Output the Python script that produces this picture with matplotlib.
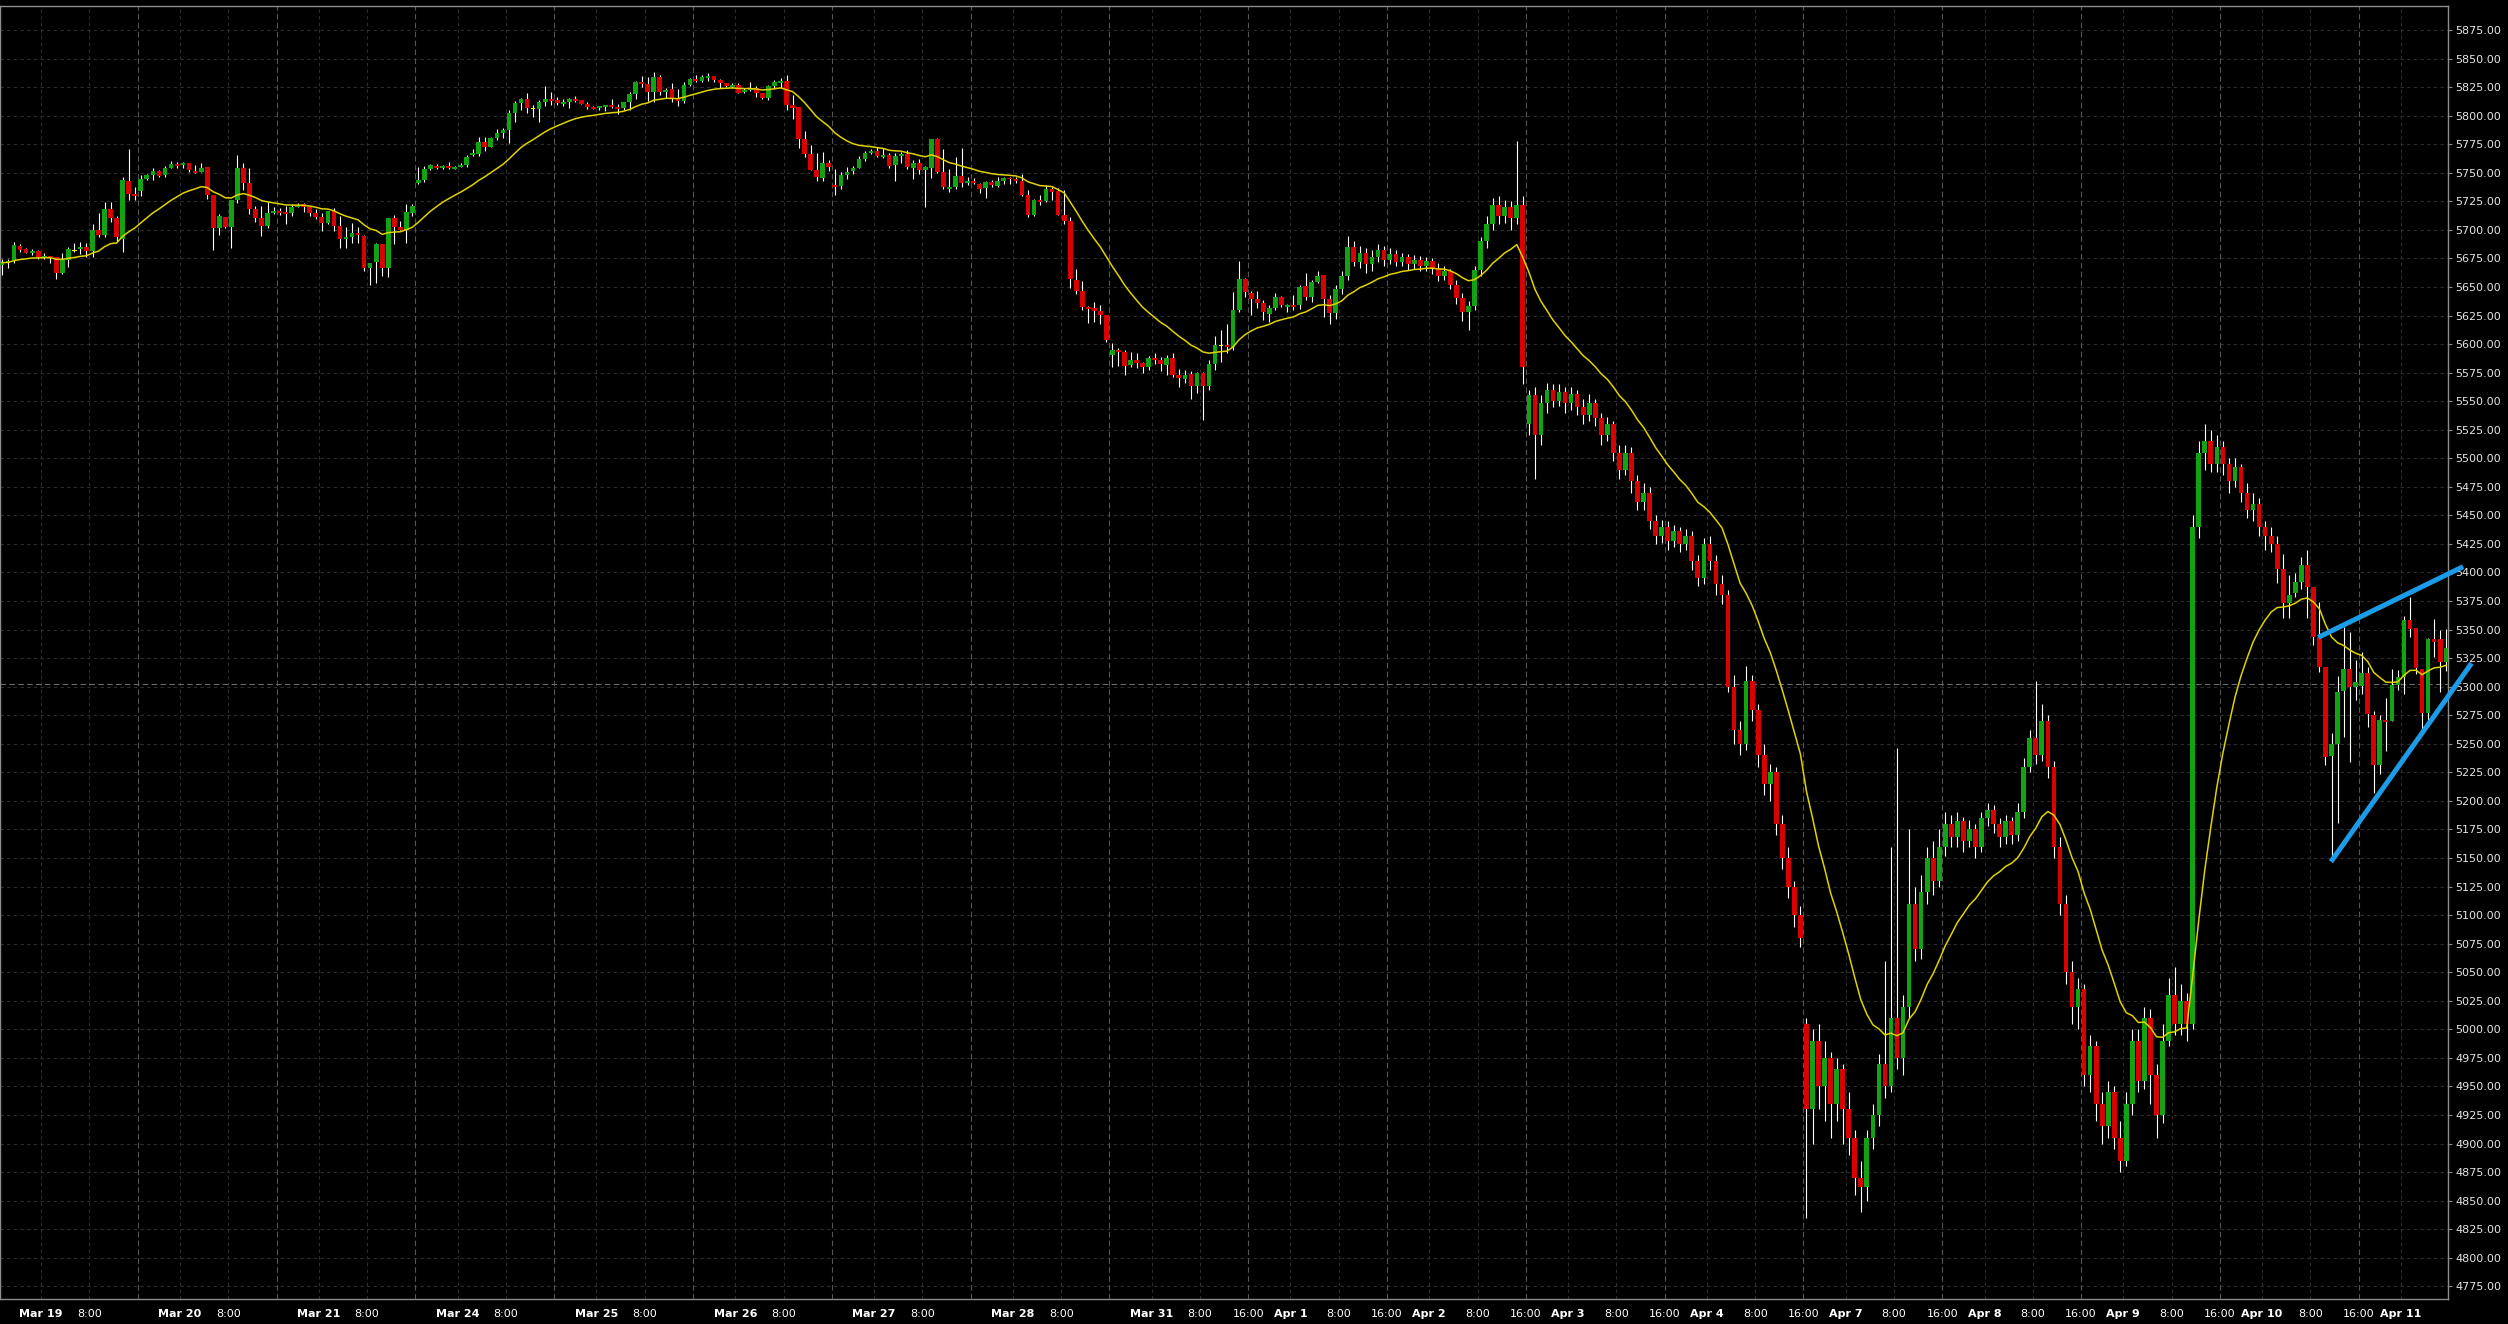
import matplotlib
matplotlib.use("Agg")
import matplotlib.pyplot as plt
import numpy as np
import pandas as pd

# ------------------------------------------------------------------
# hourly OHLC bars (bar 0 = Mar 18 16:00)
# ------------------------------------------------------------------
opens = [
    5669.5, 5671.3, 5673.6, 5686.2, 5683.2, 5680.0, 5681.5, 5675.9, 5677.4, 5676.2,
    5662.5, 5673.6, 5682.1, 5683.5, 5685.0, 5681.8, 5699.9, 5695.5, 5718.3, 5710.4,
    5691.7, 5742.8, 5731.4, 5734.0, 5744.5, 5748.0, 5751.5, 5748.0, 5754.4, 5757.7,
    5757.1, 5758.5, 5751.5, 5751.0, 5755.0, 5730.5, 5701.9, 5711.5, 5702.5, 5726.1,
    5754.2, 5741.0, 5718.3, 5710.7, 5703.4, 5715.0, 5716.5, 5715.9, 5714.8, 5720.3,
    5722.3, 5720.0, 5714.8, 5711.3, 5706.3, 5716.5, 5703.4, 5692.3, 5694.0, 5696.9,
    5694.6, 5666.9, 5672.1, 5687.9, 5666.9, 5710.4, 5702.5, 5699.6, 5715.0, 5741.3,
    5743.7, 5753.3, 5755.9, 5754.4, 5755.9, 5753.6, 5755.3, 5756.5, 5765.3, 5766.7,
    5776.9, 5772.8, 5780.7, 5784.8, 5787.7, 5802.3, 5811.0, 5814.5, 5806.1, 5806.1,
    5812.2, 5814.5, 5813.7, 5810.5, 5811.9, 5814.5, 5813.7, 5810.2, 5807.5, 5806.9,
    5807.5, 5809.3, 5807.5, 5806.7, 5811.9, 5818.9, 5829.4, 5827.7, 5820.7, 5833.8,
    5820.7, 5823.0, 5814.2, 5813.1, 5826.8, 5832.1, 5830.6, 5833.2, 5834.7, 5831.2,
    5828.8, 5825.3, 5826.5, 5821.0, 5822.4, 5823.9, 5819.5, 5815.7, 5826.2, 5828.8,
    5830.3, 5809.3, 5807.5, 5779.2, 5766.4, 5752.4, 5745.7, 5758.2, 5739.2, 5738.7,
    5748.0, 5751.5, 5754.4, 5762.0, 5767.5, 5769.0, 5764.0, 5765.5, 5756.8, 5765.0,
    5766.7, 5754.5, 5758.6, 5752.4, 5754.5, 5779.6, 5750.9, 5736.1, 5737.2, 5747.2,
    5741.3, 5742.8, 5740.2, 5736.7, 5742.2, 5738.7, 5743.1, 5745.7, 5744.5, 5742.8,
    5730.8, 5713.0, 5726.2, 5725.3, 5735.8, 5734.0, 5713.0, 5707.8, 5656.1, 5646.5,
    5632.2, 5631.3, 5629.0, 5625.5, 5590.8, 5594.8, 5593.1, 5581.7, 5586.1, 5583.5,
    5580.3, 5587.8, 5586.1, 5582.0, 5587.8, 5572.9, 5569.5, 5573.8, 5563.6, 5574.7,
    5563.6, 5582.6, 5598.6, 5599.2, 5597.8, 5629.9, 5657.0, 5644.5, 5639.5, 5636.0,
    5626.4, 5631.6, 5641.3, 5632.8, 5634.2, 5634.5, 5650.9, 5641.0, 5654.7, 5660.5,
    5639.5, 5627.5, 5648, 5660, 5685, 5672, 5680, 5670, 5676, 5682,
    5674, 5679, 5672, 5676, 5670, 5674, 5668, 5673, 5667, 5660,
    5664, 5652, 5640, 5628, 5633, 5665, 5690, 5705, 5722, 5712,
    5720, 5710, 5722, 5530, 5555, 5520, 5548, 5560, 5550, 5558,
    5548, 5556, 5545, 5538, 5548, 5535, 5520, 5530, 5505, 5490,
    5505, 5480, 5462, 5470, 5445, 5432, 5440, 5428, 5436, 5425,
    5432, 5410, 5395, 5425, 5410, 5390, 5380, 5300, 5262, 5250,
    5305, 5280, 5240, 5215, 5225, 5180, 5150, 5125, 5100, 5005,
    4930, 4990, 4950, 4975, 4935, 4965, 4930, 4905, 4870, 4862,
    4905, 4925, 4970, 4950, 5010, 4975, 5020, 5110, 5070, 5120,
    5150, 5130, 5160, 5180, 5168, 5182, 5165, 5175, 5160, 5185,
    5192, 5180, 5168, 5182, 5170, 5190, 5230, 5255, 5240, 5270,
    5230, 5160, 5110, 5050, 5020, 5035, 4960, 4985, 4935, 4915,
    4945, 4905, 4885, 4935, 4990, 4955, 5010, 4960, 4925, 4990,
    5030, 5005, 5025, 5005, 5440, 5505, 5515, 5495, 5510, 5495,
    5480, 5492, 5470, 5455, 5460, 5440, 5432,
    5425.0, 5402.8, 5373.0, 5381.8, 5392.0, 5406.6, 5387.0, 5343.8, 5317.5, 5239.6,
    5249.8, 5296.5, 5315.5, 5300.0, 5300.6, 5311.7, 5275.2, 5231.4, 5270.8, 5270.3,
    5301.5, 5308.8, 5358.4, 5351.1, 5315.5, 5277.3, 5341.5, 5341.5, 5321.9,
]
highs = [
    5674.2, 5674.2, 5689.7, 5687.6, 5683.8, 5682.9, 5682.4, 5679.4, 5677.4, 5676.2,
    5680.0, 5685.3, 5688.2, 5689.4, 5688.2, 5705.1, 5714.8, 5724.7, 5724.7, 5712.4,
    5746.0, 5770.8, 5737.2, 5748.0, 5748.9, 5753.9, 5752.4, 5755.9, 5760.6, 5759.4,
    5759.7, 5758.8, 5756.5, 5758.8, 5755.0, 5730.5, 5713.6, 5711.5, 5726.1, 5765.5,
    5758.8, 5753.9, 5720.9, 5720.9, 5724.7, 5719.7, 5718.8, 5720.9, 5722.3, 5723.8,
    5723.2, 5720.0, 5718.0, 5714.5, 5716.5, 5718.8, 5712.1, 5702.8, 5706.3, 5702.8,
    5695.8, 5670.7, 5688.5, 5687.9, 5710.4, 5712.7, 5708.0, 5722.6, 5722.6, 5754.7,
    5755.9, 5757.7, 5757.4, 5756.8, 5759.4, 5755.6, 5758.5, 5765.5, 5770.8, 5781.0,
    5781.3, 5781.6, 5788.3, 5788.9, 5804.9, 5812.8, 5815.1, 5820.1, 5809.0, 5813.7,
    5826.2, 5820.7, 5816.3, 5814.2, 5815.1, 5817.2, 5813.7, 5811.9, 5808.4, 5808.4,
    5809.3, 5814.5, 5810.2, 5811.9, 5821.0, 5830.6, 5835.0, 5834.1, 5838.2, 5835.8,
    5824.2, 5828.3, 5823.0, 5829.1, 5832.6, 5835.5, 5835.8, 5837.0, 5834.7, 5831.8,
    5828.8, 5828.3, 5828.3, 5823.9, 5829.1, 5825.9, 5820.1, 5826.8, 5831.2, 5832.6,
    5835.8, 5818.0, 5807.5, 5786.8, 5774.3, 5767.5, 5768.1, 5761.1, 5753.2, 5750.3,
    5755.3, 5755.9, 5764.6, 5769.0, 5770.8, 5772.8, 5771.9, 5767.0, 5767.0, 5768.5,
    5769.9, 5761.2, 5761.8, 5755.9, 5779.6, 5780.4, 5770.8, 5753.0, 5763.5, 5771.7,
    5746.0, 5745.1, 5741.3, 5743.1, 5743.7, 5746.0, 5746.0, 5746.6, 5746.6, 5748.9,
    5734.9, 5727.3, 5730.5, 5739.3, 5737.8, 5736.4, 5734.9, 5711.6, 5665.7, 5654.9,
    5633.3, 5636.5, 5634.2, 5625.5, 5600.7, 5596.3, 5594.8, 5593.1, 5591.9, 5584.6,
    5589.6, 5591.9, 5588.4, 5590.8, 5591.9, 5577.9, 5577.3, 5576.2, 5575.9, 5575.3,
    5586.1, 5607.1, 5612.4, 5617.6, 5645.9, 5672.8, 5657.9, 5646.5, 5646.5, 5638.6,
    5634.2, 5644.5, 5642.1, 5634.8, 5643.0, 5651.5, 5662.6, 5656.4, 5664.3, 5660.5,
    5643.0, 5652, 5664, 5695, 5690, 5686, 5684, 5682, 5688, 5686,
    5684, 5682, 5680, 5679, 5678, 5677, 5676, 5675, 5671, 5668,
    5666, 5656, 5645, 5638, 5668, 5694, 5712, 5728, 5730, 5726,
    5725, 5778, 5730, 5560, 5562, 5555, 5566, 5565, 5565, 5562,
    5562, 5560, 5552, 5556, 5552, 5540, 5536, 5533, 5512, 5512,
    5510, 5485, 5478, 5475, 5450, 5446, 5445, 5442, 5440, 5438,
    5436, 5415, 5430, 5432, 5415, 5398, 5385, 5310, 5270, 5318,
    5310, 5285, 5250, 5232, 5230, 5188, 5160, 5130, 5108, 5010,
    5000, 5005, 4990, 4980, 4975, 4970, 4945, 4912, 4885, 4912,
    4935, 4978, 5060, 5160, 5246, 5030, 5175, 5125, 5135, 5160,
    5165, 5175, 5190, 5188, 5190, 5186, 5183, 5180, 5190, 5198,
    5196, 5185, 5188, 5186, 5198, 5238, 5262, 5305, 5285, 5275,
    5235, 5168, 5118, 5060, 5045, 5040, 4995, 4990, 4945, 4955,
    4950, 4920, 4945, 5000, 5000, 5020, 5018, 4970, 5005, 5045,
    5055, 5040, 5032, 5450, 5515, 5530, 5525, 5520, 5515, 5500,
    5500, 5495, 5478, 5470, 5465, 5445, 5440,
    5432.0, 5416.2, 5397.8, 5399.3, 5413.9, 5419.7, 5387.0, 5374.5, 5317.5, 5259.2,
    5309.4, 5352.0, 5348.2, 5323.4, 5330.7, 5317.0, 5279.0, 5275.2, 5289.8, 5315.2,
    5314.6, 5361.9, 5378.8, 5351.1, 5315.5, 5342.4, 5359.0, 5349.7, 5350.5,
]
lows = [
    5660.8, 5666.9, 5671.3, 5680.6, 5679.4, 5678.0, 5674.5, 5674.8, 5671.3, 5657.3,
    5661.6, 5667.8, 5680.9, 5679.1, 5675.9, 5675.9, 5693.5, 5693.5, 5706.9, 5690.2,
    5680.9, 5726.1, 5726.1, 5729.9, 5743.7, 5743.7, 5746.0, 5746.6, 5754.4, 5754.2,
    5754.2, 5751.0, 5749.5, 5750.4, 5726.7, 5682.4, 5695.5, 5701.3, 5684.4, 5723.2,
    5734.9, 5714.2, 5706.9, 5694.9, 5701.3, 5713.6, 5713.0, 5705.1, 5712.4, 5720.3,
    5715.3, 5712.1, 5709.5, 5699.3, 5705.1, 5699.3, 5684.4, 5684.4, 5688.2, 5688.2,
    5664.0, 5651.4, 5653.2, 5659.9, 5659.0, 5687.6, 5699.6, 5688.2, 5712.1, 5739.9,
    5741.9, 5752.4, 5753.6, 5753.6, 5753.3, 5753.0, 5755.0, 5755.0, 5764.4, 5765.0,
    5769.4, 5772.5, 5778.7, 5780.7, 5776.3, 5794.7, 5805.2, 5802.6, 5799.1, 5794.7,
    5808.7, 5809.3, 5809.3, 5808.4, 5806.9, 5811.9, 5810.2, 5805.5, 5805.5, 5804.9,
    5804.3, 5806.4, 5801.7, 5804.9, 5804.9, 5814.2, 5825.3, 5812.8, 5811.9, 5818.0,
    5815.4, 5812.2, 5808.7, 5811.3, 5826.2, 5829.1, 5829.4, 5830.6, 5829.7, 5823.9,
    5825.3, 5824.5, 5819.5, 5820.1, 5821.5, 5816.6, 5814.5, 5813.7, 5823.0, 5823.9,
    5804.9, 5797.0, 5771.9, 5764.0, 5752.4, 5743.0, 5742.7, 5751.5, 5730.5, 5736.0,
    5744.2, 5748.9, 5753.8, 5760.5, 5766.4, 5763.5, 5763.2, 5754.1, 5743.1, 5758.3,
    5753.6, 5744.5, 5748.9, 5720.3, 5745.7, 5749.5, 5736.1, 5733.4, 5736.1, 5737.8,
    5739.3, 5740.2, 5732.0, 5728.2, 5737.8, 5737.8, 5739.9, 5740.2, 5740.7, 5729.9,
    5711.6, 5712.4, 5721.8, 5724.7, 5725.9, 5713.0, 5705.4, 5648.8, 5644.1, 5629.8,
    5618.7, 5619.6, 5617.3, 5602.1, 5580.3, 5581.1, 5572.9, 5580.3, 5578.8, 5574.4,
    5577.3, 5582.6, 5576.7, 5572.9, 5571.5, 5562.7, 5565.7, 5552.2, 5557.5, 5533.8,
    5559.8, 5577.3, 5584.6, 5592.5, 5594.8, 5628.4, 5641.0, 5625.5, 5631.3, 5621.1,
    5619.7, 5629.6, 5632.8, 5628.4, 5629.9, 5630.4, 5638.6, 5637.2, 5653.2, 5623.4,
    5617.6, 5622, 5644, 5656, 5668, 5667, 5662, 5664, 5672, 5668,
    5670, 5668, 5668, 5665, 5666, 5664, 5664, 5661, 5655, 5656,
    5648, 5635, 5620, 5612, 5630, 5660, 5684, 5700, 5705, 5706,
    5700, 5705, 5565, 5520, 5482, 5512, 5540, 5545, 5546, 5540,
    5542, 5538, 5530, 5533, 5528, 5512, 5515, 5498, 5482, 5485,
    5470, 5455, 5455, 5438, 5425, 5426, 5420, 5422, 5418, 5420,
    5402, 5388, 5390, 5402, 5380, 5372, 5295, 5250, 5240, 5245,
    5270, 5230, 5205, 5200, 5170, 5140, 5115, 5090, 5072, 4835,
    4900, 4930, 4920, 4905, 4920, 4900, 4890, 4855, 4840, 4850,
    4895, 4915, 4940, 4945, 4965, 4960, 5010, 5060, 5062, 5110,
    5118, 5125, 5152, 5160, 5160, 5155, 5160, 5150, 5155, 5178,
    5172, 5160, 5162, 5162, 5165, 5185, 5225, 5232, 5235, 5220,
    5150, 5100, 5040, 5005, 5000, 4950, 4945, 4920, 4900, 4905,
    4895, 4875, 4880, 4925, 4945, 4948, 4935, 4905, 4918, 4985,
    4995, 4995, 4990, 5000, 5430, 5490, 5488, 5488, 5485, 5470,
    5475, 5462, 5448, 5445, 5432, 5420, 5418,
    5390.5, 5359.9, 5359.9, 5378.8, 5385.3, 5359.9, 5336.5, 5313.2, 5231.4, 5146.8,
    5180.4, 5255.7, 5234.4, 5288.4, 5293.6, 5264.4, 5206.6, 5223.6, 5244.0, 5270.3,
    5297.1, 5293.6, 5343.8, 5311.1, 5262.1, 5270.8, 5326.3, 5295.7, 5314.0,
]
closes = [
    5671.3, 5672.7, 5686.7, 5682.4, 5679.7, 5681.5, 5676.2, 5677.4, 5675.9, 5662.2,
    5673.6, 5682.9, 5682.1, 5685.0, 5681.8, 5699.9, 5695.8, 5718.3, 5710.4, 5693.7,
    5743.7, 5731.7, 5729.9, 5744.5, 5748.0, 5751.5, 5747.4, 5754.2, 5757.7, 5756.2,
    5758.5, 5752.1, 5750.1, 5754.2, 5730.5, 5701.9, 5712.1, 5702.5, 5726.1, 5754.2,
    5741.0, 5718.3, 5710.7, 5703.4, 5714.8, 5716.5, 5715.0, 5714.2, 5720.0, 5721.8,
    5720.0, 5715.0, 5711.5, 5706.3, 5716.5, 5703.7, 5692.3, 5693.7, 5696.9, 5695.2,
    5666.9, 5670.7, 5687.9, 5666.9, 5710.4, 5702.8, 5700.2, 5715.6, 5720.9, 5743.7,
    5753.3, 5756.8, 5754.2, 5756.2, 5754.2, 5755.0, 5756.8, 5763.5, 5767.0, 5776.9,
    5772.8, 5780.4, 5784.8, 5787.7, 5802.3, 5811.0, 5814.5, 5806.9, 5806.1, 5811.9,
    5814.5, 5812.8, 5811.0, 5811.9, 5814.5, 5812.8, 5810.5, 5807.5, 5805.8, 5808.4,
    5809.3, 5807.5, 5805.8, 5811.9, 5818.9, 5829.4, 5827.7, 5820.7, 5833.8, 5820.7,
    5822.4, 5814.5, 5813.4, 5826.8, 5831.8, 5830.6, 5833.8, 5834.7, 5831.2, 5828.8,
    5826.2, 5826.8, 5820.1, 5822.4, 5823.9, 5819.5, 5815.7, 5825.9, 5829.7, 5830.6,
    5809.3, 5806.9, 5779.2, 5766.4, 5752.4, 5746.5, 5758.2, 5755.3, 5737.8, 5748.0,
    5750.9, 5754.4, 5762.0, 5767.5, 5769.0, 5764.6, 5765.5, 5755.9, 5764.7, 5766.7,
    5755.3, 5758.6, 5752.4, 5755.3, 5779.6, 5750.8, 5737.5, 5737.5, 5747.2, 5741.0,
    5742.8, 5741.0, 5736.1, 5741.9, 5739.6, 5742.8, 5745.4, 5744.2, 5742.8, 5730.8,
    5713.0, 5726.2, 5724.4, 5735.8, 5733.4, 5713.0, 5708.1, 5656.7, 5646.8, 5632.8,
    5631.0, 5629.0, 5625.5, 5603.6, 5594.8, 5593.4, 5581.1, 5586.1, 5583.8, 5580.3,
    5587.8, 5586.1, 5582.6, 5587.8, 5572.9, 5570.6, 5572.9, 5563.6, 5574.7, 5563.6,
    5582.6, 5599.2, 5598.6, 5597.8, 5629.9, 5657.0, 5645.9, 5639.5, 5636.0, 5627.8,
    5631.6, 5641.3, 5634.2, 5634.2, 5632.8, 5650.0, 5641.3, 5654.4, 5659.6, 5639.2,
    5627.5, 5648, 5660, 5685, 5672, 5680, 5670, 5676, 5682, 5674,
    5679, 5672, 5676, 5670, 5674, 5668, 5673, 5667, 5660, 5664,
    5652, 5640, 5628, 5633, 5665, 5690, 5705, 5722, 5712, 5720,
    5710, 5722, 5580, 5555, 5520, 5548, 5560, 5550, 5558, 5548,
    5556, 5545, 5538, 5548, 5535, 5520, 5530, 5505, 5490, 5505,
    5480, 5462, 5470, 5445, 5432, 5440, 5428, 5436, 5425, 5432,
    5410, 5395, 5425, 5410, 5390, 5380, 5300, 5262, 5250, 5305,
    5280, 5240, 5215, 5225, 5180, 5150, 5125, 5100, 5080, 4930,
    4990, 4950, 4975, 4935, 4965, 4930, 4905, 4870, 4862, 4905,
    4925, 4970, 4950, 5010, 4975, 5020, 5110, 5070, 5120, 5150,
    5130, 5160, 5180, 5168, 5182, 5165, 5175, 5160, 5185, 5192,
    5180, 5168, 5182, 5170, 5190, 5230, 5255, 5240, 5270, 5230,
    5160, 5110, 5050, 5020, 5035, 4960, 4985, 4935, 4915, 4945,
    4905, 4885, 4935, 4990, 4955, 5010, 4960, 4925, 4990, 5030,
    5005, 5025, 5005, 5440, 5505, 5515, 5495, 5510, 5495, 5480,
    5492, 5470, 5455, 5460, 5440, 5432, 5425,
    5402.8, 5373.6, 5380.3, 5392.0, 5406.6, 5387.0, 5343.8, 5317.5, 5238.7, 5249.8,
    5295.7, 5315.5, 5300.0, 5303.8, 5311.7, 5275.8, 5231.4, 5270.8, 5269.4, 5301.5,
    5308.8, 5358.4, 5350.5, 5316.1, 5277.3, 5341.8, 5339.4, 5321.9, 5333.6,
]

day_labels = ["Mar 19", "Mar 20", "Mar 21", "Mar 24", "Mar 25", "Mar 26", "Mar 27",
              "Mar 28", "Mar 31", "Apr 1", "Apr 2", "Apr 3", "Apr 4", "Apr 7",
              "Apr 8", "Apr 9", "Apr 10", "Apr 11"]
hour_labels = ["8:00", "16:00"]
first_day_with_16h = "Mar 31"

last_price = 5302.5

# hand drawn wedge lines (bar index, price)
wedge_top_x = [383.8, 407.8]
wedge_top_y = [5343.2, 5405.1]
wedge_bot_x = [385.9, 409.2]
wedge_bot_y = [5146.8, 5320.5]

BARS_PER_DAY = 23
FIRST_DAY_BAR = 7

# ------------------------------------------------------------------
o = np.array(opens, dtype=float)
h = np.array(highs, dtype=float)
l = np.array(lows, dtype=float)
c = np.array(closes, dtype=float)
x = np.arange(len(c))

fig = plt.figure(figsize=(25.08, 13.24), dpi=100, facecolor="black")
ax = fig.add_axes([0.0, 25 / 1324, 2448 / 2508, 1293 / 1324])
ax.set_facecolor("black")

ax.set_xlim(-0.33, 405.3)
ax.set_ylim(4763.9, 5896.0)

GRID = dict(color="#2e2e2e", lw=0.8, ls=(0, (3, 3)), zorder=0)

# grid
yt = np.arange(4775, 5876, 25)
for v in yt:
    ax.axhline(v, **GRID)

xt, xl, bold = [], [], []
for d, name in enumerate(day_labels):
    edge = FIRST_DAY_BAR + BARS_PER_DAY * d - 0.5
    xt.append(edge); xl.append(name); bold.append(True)
    ax.axvline(edge, **GRID)
    if edge + 8 < 405.3:
        xt.append(edge + 8); xl.append(hour_labels[0]); bold.append(False)
        ax.axvline(edge + 8, **GRID)
    if edge + 16 < 405.3:
        ax.axvline(edge + 16, color="#555555", lw=0.8, ls=(0, (5, 3)), zorder=0)
        if d >= day_labels.index(first_day_with_16h):
            xt.append(edge + 16); xl.append(hour_labels[1]); bold.append(False)

ax.axhline(last_price, color="#6a6a6a", lw=0.8, ls=(0, (5, 3)), zorder=0)

# candles
ax.vlines(x, l, h, color="white", lw=0.8, zorder=2)
up = c > o
dn = c < o
dj = c == o
size = np.abs(c - o)
mid = (o + c) / 2
body_h = np.maximum(size, 1.4)
body_b = np.where(size < 1.4, mid - 0.7, np.minimum(o, c))
ax.bar(x[up], body_h[up], bottom=body_b[up], width=0.78, color="#12a312", lw=0, zorder=3)
ax.bar(x[dn], body_h[dn], bottom=body_b[dn], width=0.78, color="#d80000", lw=0, zorder=3)
ax.bar(x[dj], body_h[dj], bottom=body_b[dj], width=0.78, color="#ffff00", lw=0, zorder=3)

# moving average of closes
ma = pd.Series(c).ewm(span=18, adjust=False).mean()
ax.plot(x, ma, color="#e0d200", lw=1.1, zorder=4)

# wedge
ax.plot(wedge_top_x, wedge_top_y, color="#1c9be8", lw=3.6, clip_on=False, zorder=5,
        solid_capstyle="butt")
ax.plot(wedge_bot_x, wedge_bot_y, color="#1c9be8", lw=3.6, clip_on=False, zorder=5,
        solid_capstyle="butt")

# axes styling
for s in ax.spines.values():
    s.set_color("#8c8c8c")
    s.set_linewidth(1.0)

ax.yaxis.tick_right()
ax.set_yticks(yt)
ax.set_yticklabels([f"{v:.2f}" for v in yt])
ax.tick_params(axis="y", colors="#8c8c8c", labelcolor="#e6e6e6", length=3,
               width=0.8, labelsize=8, pad=2)

ax.set_xticks(xt)
ax.set_xticklabels(xl)
ax.tick_params(axis="x", length=0, pad=7, labelcolor="white", labelsize=8)
for lab, b in zip(ax.get_xticklabels(), bold):
    if b:
        lab.set_fontweight("bold")

fig.savefig("out.png", dpi=100, facecolor="black")
